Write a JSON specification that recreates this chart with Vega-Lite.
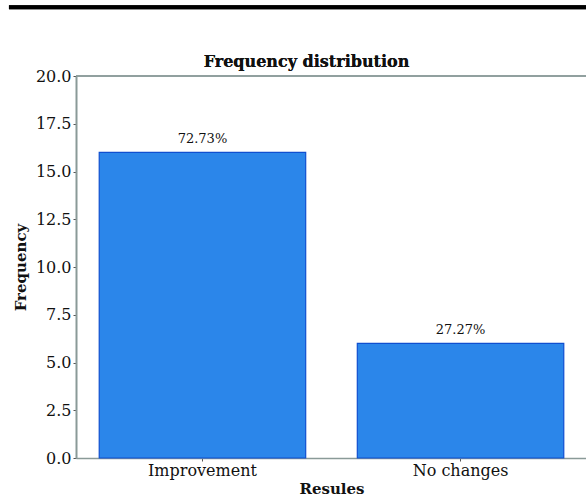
{
  "$schema": "https://vega.github.io/schema/vega-lite/v6.json",
  "width": 511,
  "height": 382,
  "padding": {"left": 6, "top": 5, "right": 0, "bottom": 2},
  "background": "white",
  "data": {"values": [
    {"Resules": "Improvement", "Frequency": 16, "pct": "72.73%"},
    {"Resules": "No changes", "Frequency": 6, "pct": "27.27%"}
  ]},
  "layer": [
    {"layer": [
      {"mark": {"type": "bar", "color": "#2b86ea", "stroke": "#0f4fd0", "strokeWidth": 1.2},
        "encoding": {
          "x": {"field": "Resules", "type": "nominal", "sort": null,
            "scale": {"paddingInner": 0.2, "paddingOuter": 0.09},
            "axis": {"labelAngle": 0, "labelFont": "DejaVu Serif", "labelFontSize": 16, "labelColor": "#111", "titleFont": "DejaVu Serif", "titleFontSize": 15, "titleFontWeight": "bold", "titleColor": "#111", "titlePadding": 3, "domainColor": "#8a9a98", "domainWidth": 1.5, "tickColor": "#555", "tickSize": 3, "labelPadding": 1}},
          "y": {"field": "Frequency", "type": "quantitative",
            "scale": {"domain": [0, 20], "nice": false},
            "axis": {"values": [0, 2.5, 5, 7.5, 10, 12.5, 15, 17.5, 20], "format": ".1f", "grid": false, "labelFont": "DejaVu Serif", "labelFontSize": 16, "labelColor": "#111", "titleFont": "DejaVu Serif", "titleFontSize": 15, "titleFontWeight": "bold", "titleColor": "#111", "titlePadding": 7, "domainColor": "#8a9a98", "domainWidth": 2, "tickColor": "#555", "tickSize": 3, "labelPadding": 2}}
        }},
      {"mark": {"type": "text", "baseline": "alphabetic", "dy": -9, "font": "DejaVu Serif", "fontSize": 13, "color": "#111"},
        "encoding": {
          "x": {"field": "Resules", "type": "nominal", "sort": null},
          "y": {"field": "Frequency", "type": "quantitative"},
          "text": {"field": "pct"}}},
      {"mark": {"type": "rule", "color": "#8a9a98", "strokeWidth": 1.5},
        "encoding": {"y": {"datum": 20}}},
      {"mark": {"type": "text", "baseline": "alphabetic", "align": "center", "dx": -25, "font": "DejaVu Serif", "fontSize": 16, "fontWeight": "bold", "color": "#111", "clip": false},
        "encoding": {"y": {"datum": 20.47}, "text": {"value": "Frequency distribution"}}}
    ]},
    {"mark": {"type": "rule", "color": "#000", "strokeWidth": 4, "clip": false},
      "encoding": {
        "x": {"datum": 0, "type": "quantitative", "scale": {"domain": [0.116, 1], "zero": false, "nice": false}, "axis": null},
        "x2": {"datum": 1},
        "y": {"datum": 23.6}}}
  ],
  "resolve": {"scale": {"x": "independent"}, "axis": {"x": "independent"}},
  "config": {"view": {"stroke": null}}
}
